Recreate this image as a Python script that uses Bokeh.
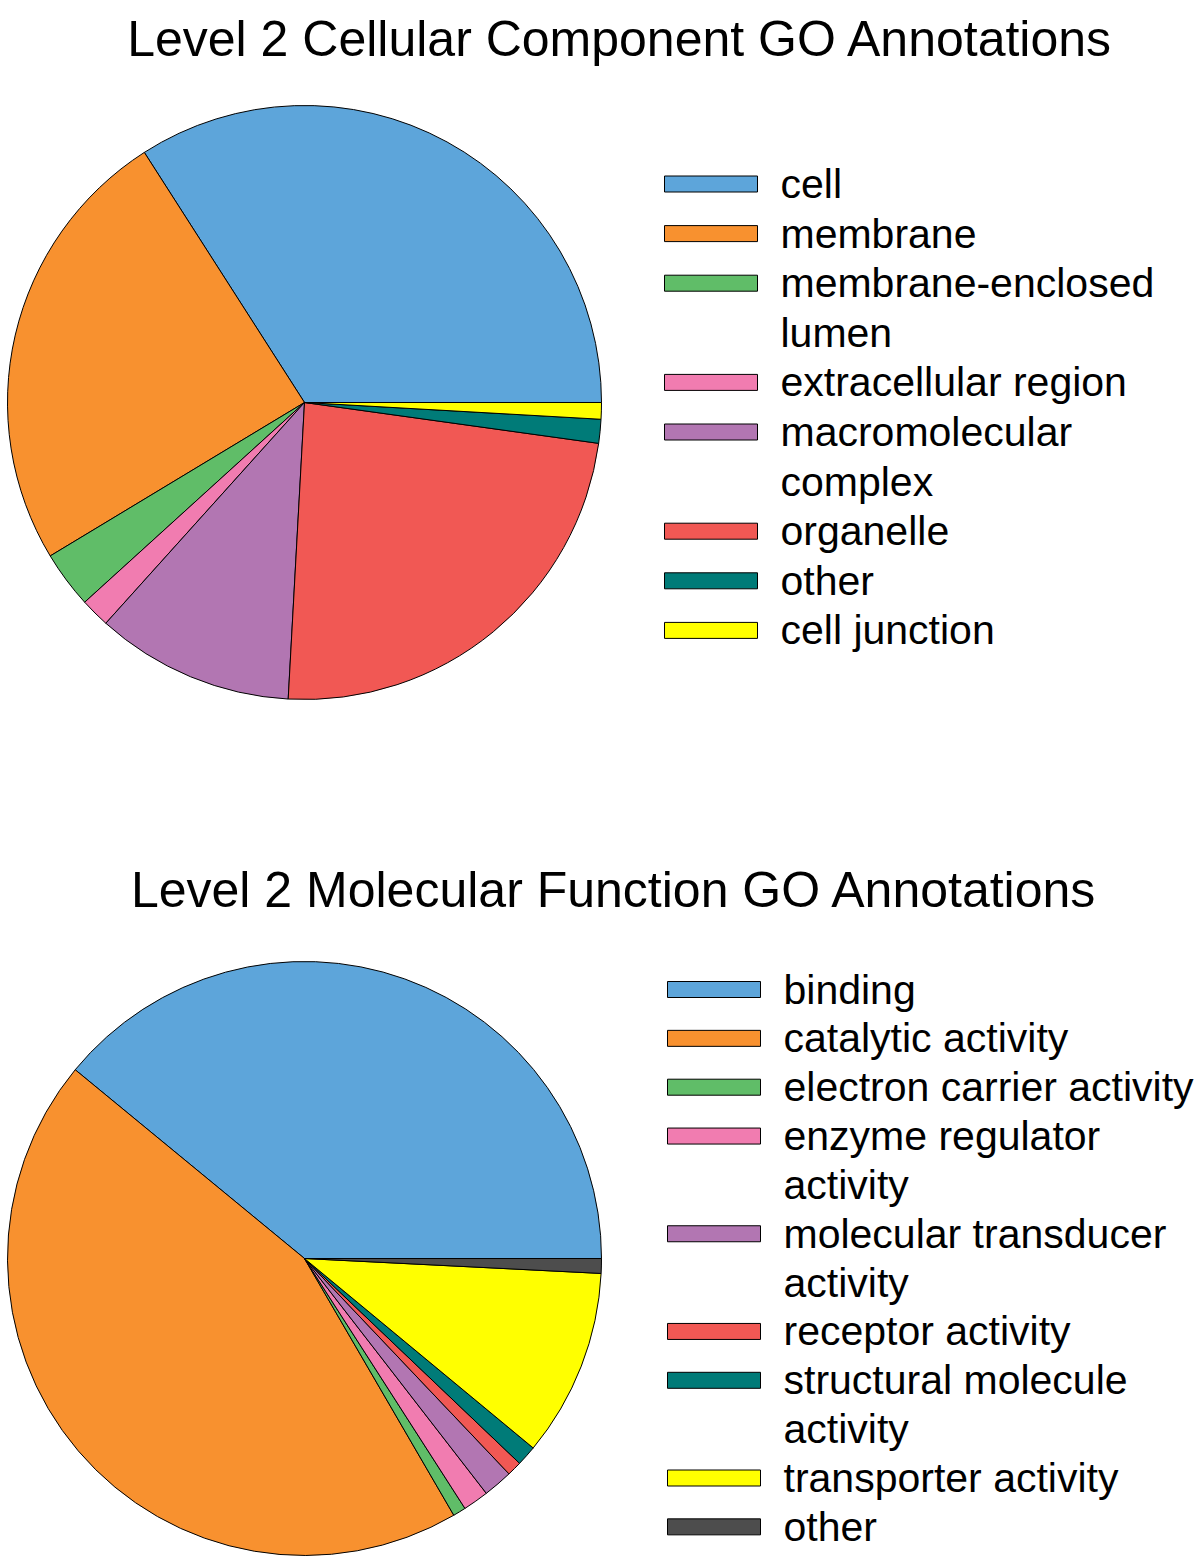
import numpy as np
from bokeh.plotting import figure
from bokeh.models import Range1d, ColumnDataSource
from bokeh.core.properties import value
from bokeh.embed import file_html
from bokeh.resources import INLINE

# ---------------- data ----------------
cc_title = "Level 2 Cellular Component GO Annotations"
cc_labels = ["cell", "membrane", "membrane-enclosed\nlumen", "extracellular region",
             "macromolecular\ncomplex", "organelle", "other", "cell junction"]
cc_values = [34.1, 24.6, 3.1, 1.6, 10.8, 23.7, 1.3, 0.9]
cc_colors = ["#5DA5DA", "#F8912F", "#60BD68", "#F17CB0", "#B276B2", "#F15854", "#007B78", "#FFFF00"]

mf_title = "Level 2 Molecular Function GO Annotations"
mf_labels = ["binding", "catalytic activity", "electron carrier activity", "enzyme regulator\nactivity",
             "molecular transducer\nactivity", "receptor activity", "structural molecule\nactivity",
             "transporter activity", "other"]
mf_values = [39.0, 44.3, 0.7, 1.4, 1.6, 0.8, 1.1, 10.2, 0.8]
mf_colors = ["#5DA5DA", "#F8912F", "#60BD68", "#F17CB0", "#B276B2", "#F15854", "#007B78", "#FFFF00", "#4D4D4D"]

# ---------------- layout ----------------
W, H = 1200, 1558
FONT = "Liberation Sans"

p = figure(width=W, height=H, x_range=Range1d(0, W), y_range=Range1d(0, H),
           toolbar_location=None, output_backend="svg", min_border=0)
p.axis.visible = False
p.grid.visible = False
p.outline_line_color = None
p.background_fill_color = "white"


def sy(screen_y):
    return H - screen_y


def sx(screen_x):
    return screen_x


def draw_block(title, labels, values, colors, title_xy, center, radius,
               sw_x0, sw_x1, text_x, row0, step):
    vals = np.asarray(values, dtype=float)
    frac = np.cumsum(vals) / vals.sum()
    ends = frac * 2 * np.pi
    starts = np.concatenate([[0.0], ends[:-1]])
    src = ColumnDataSource(dict(start=starts, end=ends, color=colors))
    p.wedge(x=sx(center[0]), y=sy(center[1]), radius=radius, start_angle="start",
            end_angle="end", fill_color="color", line_color="black", line_width=1,
            source=src)
    # title
    p.text(x=[sx(title_xy[0])], y=[sy(title_xy[1])], text=[title], text_align="center",
           text_baseline="middle", text_font=value(FONT), text_font_size="50px",
           text_color="black")
    # legend
    rx, ry, rc, tx, ty, tt = [], [], [], [], [], []
    slot = 0
    for lab, col in zip(labels, colors):
        lines = lab.split("\n")
        yy = row0 + slot * step
        rx.append(sx((sw_x0 + sw_x1) / 2))
        ry.append(sy(yy))
        rc.append(col)
        for k, ln in enumerate(lines):
            tx.append(sx(text_x))
            ty.append(sy(row0 + (slot + k) * step))
            tt.append(ln)
        slot += len(lines)
    p.rect(x=rx, y=ry, width=sw_x1 - sw_x0, height=16, fill_color=rc,
           line_color="black", line_width=1)
    p.text(x=tx, y=ty, text=tt, text_align="left", text_baseline="middle",
           text_font=value(FONT), text_font_size="41px", text_color="black")


draw_block(cc_title, cc_labels, cc_values, cc_colors, (620, 38), (304, 402), 297,
           664, 757, 780, 183.5, 49.6)
draw_block(mf_title, mf_labels, mf_values, mf_colors, (614, 889), (304, 1258), 297,
           667, 760, 783, 989, 48.85)

open("out.html", "w").write(file_html(p, INLINE))
